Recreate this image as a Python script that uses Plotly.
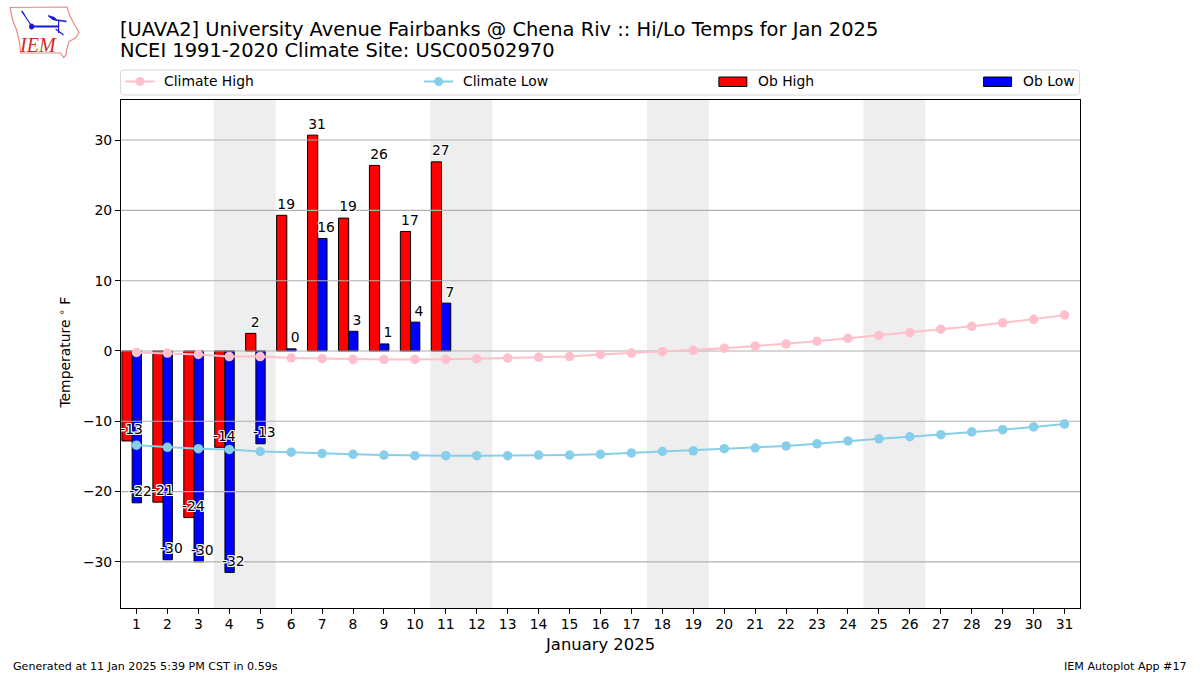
import plotly.graph_objects as go

days = list(range(1, 32))
ticks_y = [-30, -20, -10, 0, 10, 20, 30]
weekends = [(3.5, 5.5), (10.5, 12.5), (17.5, 19.5), (24.5, 26.5)]

# observed, only through the 11th
ob_days = list(range(1, 12))
ob_high = [-12.8, -21.5, -23.7, -13.7, 2.5, 19.3, 30.7, 18.9, 26.4, 17.0, 26.9]
ob_low = [-21.6, -29.7, -30.0, -31.5, -13.2, 0.3, 16.0, 2.8, 1.0, 4.1, 6.8]
ob_high_txt = ["-13", "-21", "-24", "-14", "2", "19", "31", "19", "26", "17", "27"]
ob_low_txt = ["-22", "-30", "-30", "-32", "-13", "0", "16", "3", "1", "4", "7"]

clim_high = [-0.2, -0.3, -0.5, -0.8, -0.8, -1.0, -1.1, -1.2, -1.2, -1.2, -1.2, -1.1, -1.0, -0.9, -0.8, -0.5,
             -0.3, -0.1, 0.1, 0.4, 0.7, 1.0, 1.4, 1.8, 2.2, 2.6, 3.1, 3.5, 4.0, 4.5, 5.1]
clim_low = [-13.4, -13.7, -13.9, -14.0, -14.3, -14.4, -14.6, -14.7, -14.8, -14.9, -14.9, -14.9, -14.9, -14.8,
            -14.8, -14.7, -14.5, -14.3, -14.2, -13.9, -13.8, -13.5, -13.2, -12.8, -12.5, -12.2, -11.9, -11.5,
            -11.2, -10.8, -10.4]

FONT = "DejaVu Sans"
PINK = "#ffc0cb"
SKY = "#87ceeb"
HALO = "1px 0 0 #fff, -1px 0 0 #fff, 0 1px 0 #fff, 0 -1px 0 #fff, 1px 1px 0 #fff, -1px -1px 0 #fff, 1px -1px 0 #fff, -1px 1px 0 #fff"

# plot box in pixels
L, R, T, B = 120.5, 1080.5, 100, 608


def px(x):
    return (x - L) / (R - L)


def py(y):
    return (B - y) / (B - T)


def path(points, close=False):
    s = "M" + " L".join(f"{px(x):.4f},{py(y):.4f}" for x, y in points)
    return s + (" Z" if close else "")


fig = go.Figure()

# bars
fig.add_trace(go.Bar(x=ob_days, y=ob_high, name="Ob High", width=0.33, offset=-0.47,
                     marker=dict(color="#ff0000", line=dict(color="black", width=1))))
fig.add_trace(go.Bar(x=ob_days, y=ob_low, name="Ob Low", width=0.3, offset=-0.14,
                     marker=dict(color="#0000ff", line=dict(color="black", width=1))))

# grid sits over the bars in the original, so it is a trace here and not the axis grid
grid_x, grid_y = [], []
for t in ticks_y:
    grid_x += [0.5, 31.5, None]
    grid_y += [t, t, None]
fig.add_trace(go.Scatter(x=grid_x, y=grid_y, mode="lines", line=dict(color="#b0b0b0", width=1.1),
                         hoverinfo="skip", showlegend=False))

fig.add_trace(go.Scatter(x=days, y=clim_high, name="Climate High", mode="lines+markers",
                         line=dict(color=PINK, width=2), marker=dict(color=PINK, size=9.5)))
fig.add_trace(go.Scatter(x=days, y=clim_low, name="Climate Low", mode="lines+markers",
                         line=dict(color=SKY, width=2), marker=dict(color=SKY, size=9.5)))

# value labels
fig.add_trace(go.Scatter(x=[d - 0.16 for d in ob_days], y=[v + 0.45 for v in ob_high], text=ob_high_txt,
                         mode="text", textposition="top center", hoverinfo="skip", showlegend=False,
                         textfont=dict(family=FONT, size=13.9, color="black", shadow=HALO)))
fig.add_trace(go.Scatter(x=[d + 0.13 for d in ob_days], y=[v + 0.45 for v in ob_low], text=ob_low_txt,
                         mode="text", textposition="top center", hoverinfo="skip", showlegend=False,
                         textfont=dict(family=FONT, size=13.9, color="black", shadow=HALO)))

shapes = []
for x0, x1 in weekends:
    shapes.append(dict(type="rect", xref="x", yref="paper", x0=x0, x1=x1, y0=0, y1=1,
                       fillcolor="#eeeeee", line_width=0, layer="below"))

annotations = []


def note(x, y, text, size=13.9, anchor="left", color="black", family=FONT, angle=0):
    annotations.append(dict(x=px(x), y=py(y), xref="paper", yref="paper", text=text, showarrow=False,
                            xanchor=anchor, yanchor="middle", textangle=angle, borderpad=0,
                            font=dict(family=family, size=size, color=color)))


# legend strip: four expanded columns, spacing is uneven so each is placed by hand
shapes.append(dict(type="path", xref="paper", yref="paper", line=dict(color="#d8d8d8", width=1),
                   fillcolor="white",
                   path=f"M{px(123):.4f},{py(70):.4f} L{px(1077):.4f},{py(70):.4f} "
                        f"Q{px(1080):.4f},{py(70):.4f} {px(1080):.4f},{py(73):.4f} L{px(1080):.4f},{py(92):.4f} "
                        f"Q{px(1080):.4f},{py(95):.4f} {px(1077):.4f},{py(95):.4f} L{px(123):.4f},{py(95):.4f} "
                        f"Q{px(120):.4f},{py(95):.4f} {px(120):.4f},{py(92):.4f} L{px(120):.4f},{py(73):.4f} "
                        f"Q{px(120):.4f},{py(70):.4f} {px(123):.4f},{py(70):.4f} Z"))
for x0, color, label in [(125, PINK, "Climate High"), (424, SKY, "Climate Low")]:
    shapes.append(dict(type="line", xref="paper", yref="paper", x0=px(x0), x1=px(x0 + 29), y0=py(81.5), y1=py(81.5),
                       line=dict(color=color, width=2)))
    shapes.append(dict(type="circle", xref="paper", yref="paper", x0=px(x0 + 10), x1=px(x0 + 19),
                       y0=py(86), y1=py(77), fillcolor=color, line_width=0))
    note(x0 + 38, 81, label)
for x0, color, label in [(719, "#ff0000", "Ob High"), (984, "#0000ff", "Ob Low")]:
    shapes.append(dict(type="rect", xref="paper", yref="paper", x0=px(x0), x1=px(x0 + 28), y0=py(86.5), y1=py(77),
                       fillcolor=color, line=dict(color="black", width=1)))
    note(x0 + 38, 81, label)

# logo, redrawn from the Iowa outline and the blue station symbol
shapes.append(dict(type="path", xref="paper", yref="paper", line=dict(color="#e58a8a", width=1.2),
                   path=path([(9.5, 7.5), (66.5, 7), (69, 15), (74, 25), (78.5, 32.5), (75, 38), (68.5, 41.5),
                              (66, 50), (65.5, 55), (63, 57.5), (60, 53), (20, 53), (19, 43), (16, 30), (12, 20)], True)))
for pts, w in [([(31, 26.5), (58, 26.5)], 2),
               ([(21, 11), (31, 26)], 1.2),
               ([(21, 11), (24, 15)], 1.2),
               ([(48, 16), (56, 20), (66, 21.5)], 1.5),
               ([(58, 21), (58, 33)], 1.2),
               ([(55, 29), (63, 35)], 1.2)]:
    shapes.append(dict(type="path", xref="paper", yref="paper", line=dict(color="#1a1ad6", width=w), path=path(pts)))
shapes.append(dict(type="circle", xref="paper", yref="paper", x0=px(28.5), x1=px(33.5), y0=py(29.5), y1=py(23.5),
                   fillcolor="#1a1ad6", line_width=0))
shapes.append(dict(type="path", xref="paper", yref="paper", fillcolor="#1a1ad6", line_width=0,
                   path=path([(47, 15), (54, 17), (57, 21), (52, 20)], True)))
note(37, 45, "<i>IEM</i>", size=20, anchor="center", color="#d42a2a", family="Liberation Serif")

# titles and footer
note(118.5, 29, "[UAVA2] University Avenue Fairbanks @ Chena Riv :: Hi/Lo Temps for Jan 2025", size=19.45)
note(118.5, 51, "NCEI 1991-2020 Climate Site: USC00502970", size=19.45)
note(600, 644, "January 2025", size=16.4, anchor="center")
note(11, 666, "Generated at 11 Jan 2025 5:39 PM CST in 0.59s", size=11.1)
note(1189, 666, "IEM Autoplot App #17", size=11.1, anchor="right")
note(64, 353, "Temperature <sup>∘</sup> F", angle=-90, anchor="center")

fig.update_layout(
    width=1200, height=675, margin=dict(l=L, r=1200 - R, t=T, b=675 - B, pad=0),
    paper_bgcolor="white", plot_bgcolor="white", barmode="overlay", showlegend=False,
    font=dict(family=FONT, size=13.9, color="black"),
    shapes=shapes, annotations=annotations,
)
fig.update_xaxes(range=[0.5, 31.5], tickmode="array", tickvals=days, ticktext=[str(d) for d in days],
                 showgrid=False, zeroline=False, showline=True, linecolor="black", linewidth=1, mirror=True,
                 ticks="outside", ticklen=5, tickcolor="black", tickangle=0, ticklabelstandoff=-2)
fig.update_yaxes(range=[-36.56, 35.7], tickmode="array", tickvals=ticks_y, showgrid=False, zeroline=False,
                 showline=True, linecolor="black", linewidth=1, mirror=True,
                 ticks="outside", ticklen=5, tickcolor="black")

# page margin would push the fixed-size figure 8px off
fig.write_html("out.html", config={"displayModeBar": False}, post_script="document.body.style.margin='0';")
